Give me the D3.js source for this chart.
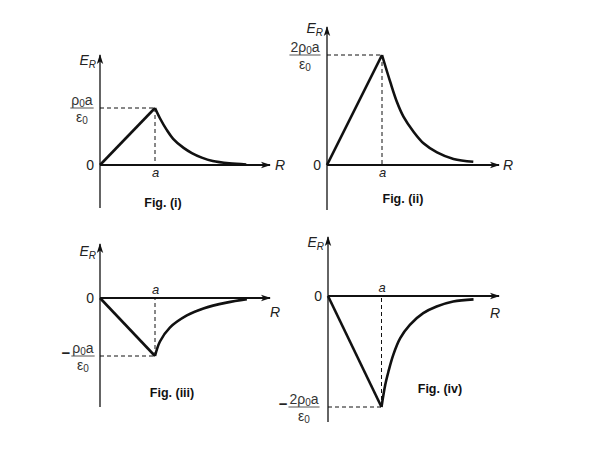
<!DOCTYPE html>
<html>
<head>
<meta charset="utf-8">
<script src="https://cdn.jsdelivr.net/npm/d3@7"></script>
<style>
  body { margin: 0; background: #fff; }
  svg { display: block; font-family: "Liberation Sans", Arial, sans-serif; }
</style>
</head>
<body>
<svg width="594" height="457"></svg>
<script>
// R in units of a, E_R in units of rho0*a/eps0
const fig1R = [0, 1, 1.09, 1.21, 1.33, 1.52, 1.67, 1.85, 2.05, 2.35, 2.66];
const fig1E = [0, 1, 0.82, 0.62, 0.46, 0.30, 0.21, 0.13, 0.07, 0.03, 0.01];

const fig2R = [0, 1, 1.15, 1.27, 1.39, 1.57, 1.76, 2.00, 2.30, 2.66];
const fig2E = [0, 2, 1.51, 1.15, 0.88, 0.61, 0.39, 0.23, 0.11, 0.06];

const fig3R = [0, 1, 1.09, 1.27, 1.58, 1.88, 2.30, 2.67];
const fig3E = [0, -1, -0.75, -0.51, -0.30, -0.18, -0.08, -0.02];

const fig4R = [0, 1, 1.07, 1.13, 1.22, 1.35, 1.53, 1.78, 2.03, 2.34, 2.72];
const fig4E = [0, -2, -1.60, -1.36, -1.06, -0.76, -0.52, -0.31, -0.19, -0.10, -0.06];

const figNames = ["Fig. (i)", "Fig. (ii)", "Fig. (iii)", "Fig. (iv)"];
const peakCoef = ["", "2", "", "2"];
const peakSign = ["", "", "\u2212", "\u2212"];

// pixel layout of each panel
const layout = [
  { ox: 100, oy: 165, ax: 155, py: 108, xEnd: 270, yTop: 55, yBot: 208, fx: 163, fy: 207, fracX: 82, rx: 275, ry: 170, eb: 65, aTop: false },
  { ox: 327, oy: 165, ax: 382, py: 55, xEnd: 499, yTop: 27, yBot: 210, fx: 403, fy: 203, fracX: 305, rx: 503, ry: 170, eb: 33, aTop: false },
  { ox: 100, oy: 298, ax: 155, py: 356, xEnd: 270, yTop: 244, yBot: 407, fx: 172, fy: 397, fracX: 83, rx: 270, ry: 317, eb: 256, aTop: true },
  { ox: 328, oy: 296, ax: 381.5, py: 407, xEnd: 499, yTop: 237, yBot: 422, fx: 440, fy: 393, fracX: 304, rx: 490, ry: 318, eb: 247, aTop: true }
];

const series = [[fig1R, fig1E], [fig2R, fig2E], [fig3R, fig3E], [fig4R, fig4E]];

const svg = d3.select("svg");

const defs = svg.append("defs");
defs.append("marker")
    .attr("id", "arrow")
    .attr("markerUnits", "userSpaceOnUse")
    .attr("markerWidth", 12).attr("markerHeight", 10)
    .attr("refX", 0).attr("refY", 0)
    .attr("viewBox", "-10 -5 12 10")
    .attr("orient", "auto")
  .append("path")
    .attr("d", "M1,0 L-9,-3.2 L-6.5,0 L-9,3.2 Z")
    .attr("fill", "#111");

series.forEach(([R, E], i) => {
  const L = layout[i];
  const peak = E[1];
  const g = svg.append("g");

  const x = d3.scaleLinear().domain([0, 1]).range([L.ox, L.ax]);
  const y = d3.scaleLinear().domain([0, peak]).range([L.oy, L.py]);

  // axes lines with arrows
  g.append("line")
      .attr("x1", L.ox).attr("y1", L.yBot)
      .attr("x2", L.ox).attr("y2", L.yTop)
      .attr("stroke", "#111").attr("stroke-width", 1.3)
      .attr("marker-end", "url(#arrow)");
  g.append("line")
      .attr("x1", x(0)).attr("y1", y(0))
      .attr("x2", L.xEnd).attr("y2", y(0))
      .attr("stroke", "#111").attr("stroke-width", 2)
      .attr("marker-end", "url(#arrow)");

  // dashed guides
  g.append("path")
      .attr("d", `M${x(0)},${y(peak)}H${x(1)}M${x(1)},${y(peak)}V${y(0)}`)
      .attr("fill", "none").attr("stroke", "#111")
      .attr("stroke-width", 1).attr("stroke-dasharray", "4,3");

  // field inside (linear) and outside (falling off)
  const pts = R.map((r, k) => [r, E[k]]);
  g.append("path")
      .attr("d", d3.line().x(d => x(d[0])).y(d => y(d[1]))(pts.slice(0, 2)))
      .attr("fill", "none").attr("stroke", "#111").attr("stroke-width", 2.6);
  g.append("path")
      .attr("d", d3.line().x(d => x(d[0])).y(d => y(d[1])).curve(d3.curveCatmullRom.alpha(0.5))(pts.slice(1)))
      .attr("fill", "none").attr("stroke", "#111").attr("stroke-width", 2.6)
      .attr("stroke-linejoin", "round");

  // tick label "a"
  const xAxis = (L.aTop ? d3.axisTop(x) : d3.axisBottom(x))
      .tickValues([1]).tickFormat(() => "a").tickSize(0).tickPadding(L.aTop ? 4 : 3);
  const xg = g.append("g").attr("transform", `translate(0,${y(0)})`).call(xAxis);
  xg.select(".domain").remove();
  xg.selectAll("text").attr("font-size", 13).attr("font-style", "italic")
      .attr("fill", "#222").attr("font-family", null);

  // tick label "0"
  const yAxis = d3.axisLeft(y).tickValues([0]).tickFormat(d3.format("d")).tickSize(0).tickPadding(6);
  const yg = g.append("g").attr("transform", `translate(${x(0)},0)`).call(yAxis);
  yg.select(".domain").remove();
  yg.selectAll("text").attr("font-size", 14).attr("fill", "#222").attr("font-family", null);

  // E_R label
  const et = g.append("text").attr("x", L.ox - 4).attr("y", L.eb)
      .attr("text-anchor", "end").attr("font-style", "italic").attr("fill", "#222");
  et.append("tspan").attr("font-size", 14).text("E");
  et.append("tspan").attr("font-size", 10).attr("dy", 3).text("R");

  // R label
  g.append("text").attr("x", L.rx).attr("y", L.ry)
      .attr("font-size", 14).attr("font-style", "italic").attr("fill", "#222").text("R");

  // peak value label as a fraction
  const fy = y(peak);
  const num = g.append("text").attr("x", L.fracX).attr("y", fy - 3)
      .attr("text-anchor", "middle").attr("font-size", 14).attr("fill", "#333");
  num.append("tspan").text(peakCoef[i] + "\u03c1");
  num.append("tspan").attr("font-size", 10).attr("dy", 2).text("0");
  num.append("tspan").attr("dy", -2).text("a");
  const w = num.node().getComputedTextLength();
  g.append("line")
      .attr("x1", L.fracX - w / 2 - 1).attr("x2", L.fracX + w / 2 + 1)
      .attr("y1", fy).attr("y2", fy)
      .attr("stroke", "#555").attr("stroke-width", 1);
  const den = g.append("text").attr("x", L.fracX).attr("y", fy + 14)
      .attr("text-anchor", "middle").attr("font-size", 14).attr("fill", "#333");
  den.append("tspan").text("\u03b5");
  den.append("tspan").attr("font-size", 10).attr("dy", 2).text("0");
  if (peakSign[i]) {
    g.append("text").attr("x", L.fracX - w / 2 - 2).attr("y", fy + 2)
        .attr("text-anchor", "end").attr("font-size", 15).attr("font-weight", "bold")
        .attr("fill", "#222").text(peakSign[i]);
  }

  // figure caption
  g.append("text").attr("x", L.fx).attr("y", L.fy)
      .attr("text-anchor", "middle").attr("font-size", 12.5).attr("font-weight", "bold")
      .attr("fill", "#111").text(figNames[i]);
});
</script>
</body>
</html>
